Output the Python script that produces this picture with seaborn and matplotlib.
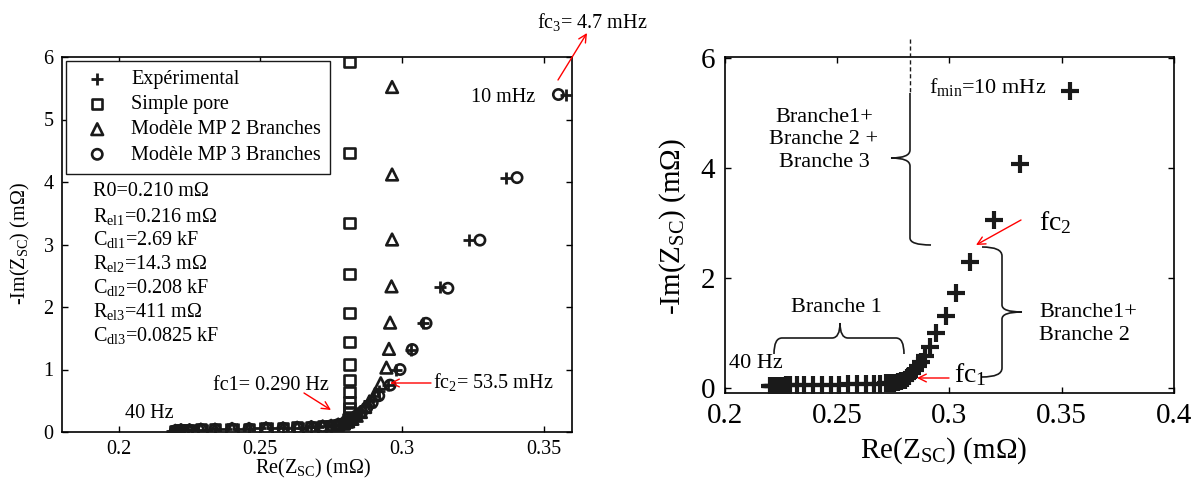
import matplotlib

matplotlib.use("Agg")

import matplotlib.pyplot as plt
import seaborn as sns
from matplotlib.path import Path
from matplotlib.patches import PathPatch
from matplotlib.lines import Line2D

W, H = 1194, 484

# ---- data (mOhm) ----
# left panel: measurement
exp_l_re = [0.219, 0.2195, 0.220, 0.2205, 0.221, 0.222, 0.223, 0.2245, 0.226, 0.228,
            0.231, 0.234, 0.238, 0.242, 0.246, 0.250, 0.254, 0.258, 0.262, 0.265,
            0.268, 0.2705, 0.273, 0.275, 0.2765, 0.278, 0.279, 0.280, 0.281, 0.2825,
            0.284, 0.2855, 0.287, 0.2885, 0.290, 0.292, 0.2951, 0.2979, 0.3032, 0.3074,
            0.3134, 0.3237, 0.3367, 0.358]
exp_l_im = [0.02, 0.02, 0.02, 0.03, 0.03, 0.03, 0.03, 0.04, 0.04, 0.04,
            0.04, 0.05, 0.05, 0.05, 0.05, 0.06, 0.06, 0.06, 0.07, 0.07,
            0.08, 0.08, 0.09, 0.10, 0.11, 0.12, 0.14, 0.16, 0.19, 0.23,
            0.28, 0.34, 0.41, 0.49, 0.57, 0.65, 0.76, 1.0, 1.32, 1.75,
            2.32, 3.07, 4.07, 5.4]

# simple pore model
sp_re = [0.220, 0.222, 0.225, 0.229, 0.234, 0.240, 0.246, 0.252, 0.258, 0.263,
         0.268, 0.272, 0.275, 0.2775, 0.2795, 0.2805, 0.281, 0.2813, 0.2815, 0.2815,
         0.2815, 0.2815, 0.2815, 0.2815, 0.2815, 0.2815, 0.2815, 0.2815, 0.2815, 0.2815]
sp_im = [0.02, 0.03, 0.03, 0.04, 0.04, 0.05, 0.05, 0.06, 0.06, 0.07,
         0.08, 0.09, 0.10, 0.11, 0.13, 0.16, 0.20, 0.24, 0.30, 0.38,
         0.48, 0.64, 0.83, 1.08, 1.44, 1.9, 2.53, 3.34, 4.46, 5.92]

# MP model, 2 branches
mp2_re = [0.220, 0.222, 0.225, 0.229, 0.234, 0.240, 0.246, 0.252, 0.258, 0.263,
          0.268, 0.272, 0.275, 0.2775, 0.2795, 0.281, 0.2825, 0.284, 0.2855, 0.287,
          0.2885, 0.2905, 0.2925, 0.2945, 0.2954, 0.2958, 0.2963, 0.2965, 0.2965, 0.2965]
mp2_im = [0.02, 0.03, 0.03, 0.04, 0.04, 0.05, 0.05, 0.06, 0.06, 0.07,
          0.08, 0.09, 0.10, 0.12, 0.14, 0.17, 0.21, 0.26, 0.32, 0.40,
          0.49, 0.61, 0.78, 1.03, 1.33, 1.75, 2.33, 3.08, 4.12, 5.52]

# MP model, 3 branches
mp3_re = [0.220, 0.222, 0.225, 0.229, 0.234, 0.240, 0.246, 0.252, 0.258, 0.263,
          0.268, 0.272, 0.275, 0.2775, 0.2795, 0.281, 0.2825, 0.284, 0.2858, 0.2876,
          0.2895, 0.2918, 0.2958, 0.2993, 0.3036, 0.3085, 0.3162, 0.3275, 0.3406, 0.3552]
mp3_im = [0.02, 0.03, 0.03, 0.04, 0.04, 0.05, 0.05, 0.06, 0.06, 0.07,
          0.08, 0.09, 0.10, 0.12, 0.14, 0.17, 0.21, 0.26, 0.32, 0.39,
          0.47, 0.58, 0.75, 1.0, 1.32, 1.74, 2.3, 3.07, 4.07, 5.4]

# right panel: measurement
exp_r_re = [0.220, 0.2205, 0.221, 0.2215, 0.222, 0.223, 0.224, 0.2255, 0.227, 0.229,
            0.232, 0.235, 0.239, 0.243, 0.247, 0.251, 0.255, 0.259, 0.263, 0.2665,
            0.269, 0.2715, 0.2735, 0.2755, 0.277, 0.2785, 0.280, 0.281, 0.282, 0.2833,
            0.2845, 0.2858, 0.2873, 0.289, 0.2912, 0.2942, 0.2984, 0.3027, 0.3090, 0.3196,
            0.3314, 0.3535]
exp_r_im = [0.02, 0.02, 0.02, 0.02, 0.03, 0.03, 0.03, 0.03, 0.04, 0.04,
            0.04, 0.04, 0.05, 0.05, 0.05, 0.05, 0.06, 0.06, 0.06, 0.07,
            0.07, 0.08, 0.08, 0.09, 0.10, 0.12, 0.14, 0.17, 0.21, 0.26,
            0.32, 0.39, 0.47, 0.57, 0.73, 1.0, 1.31, 1.72, 2.28, 3.05,
            4.07, 5.4]

params = ["R0=0.210 m\u03a9",
          "R$_{\\mathrm{el1}}$=0.216 m\u03a9",
          "C$_{\\mathrm{dl1}}$=2.69 kF",
          "R$_{\\mathrm{el2}}$=14.3 m\u03a9",
          "C$_{\\mathrm{dl2}}$=0.208 kF",
          "R$_{\\mathrm{el3}}$=411 m\u03a9",
          "C$_{\\mathrm{dl3}}$=0.0825 kF"]

left_xticks = [0.2, 0.25, 0.3, 0.35]
left_xlabels = ["0.2", "0.25", "0.3", "0.35"]
right_xticks = [0.2, 0.25, 0.3, 0.35, 0.4]
right_xlabels = ["0.2", "0.25", "0.3", "0.35", "0.4"]

sns.set_theme(style="ticks", rc={"axes.edgecolor": "black", "xtick.color": "black",
                                 "ytick.color": "black", "text.color": "black",
                                 "axes.linewidth": 1.2})
plt.rcParams["font.family"] = ["Liberation Serif", "DejaVu Serif"]
plt.rcParams["mathtext.fontset"] = "custom"
plt.rcParams["mathtext.rm"] = "Liberation Serif"
plt.rcParams["mathtext.it"] = "Liberation Serif:italic"
plt.rcParams["mathtext.bf"] = "Liberation Serif:bold"


def fp(x, y):
    # image pixel -> figure fraction
    return (x / W, 1 - y / H)


fig = plt.figure(figsize=(W / 100, H / 100), dpi=100)
ax1 = fig.add_axes([62 / W, 1 - 432 / H, 510 / W, 375 / H])
ax2 = fig.add_axes([725 / W, 1 - 393 / H, 449 / W, 336 / H])

FS_L = 14.5
FS_R = 21

# ---- left panel ----
sns.scatterplot(x=exp_l_re, y=exp_l_im, marker="+", color="k", s=75, linewidth=2.0,
                ax=ax1, label="Expérimental", zorder=4)
sns.scatterplot(x=sp_re, y=sp_im, marker="s", s=55, color="k", facecolor="none",
                edgecolor="k", linewidth=1.9, ax=ax1, label="Simple pore", zorder=3)
sns.scatterplot(x=mp2_re, y=mp2_im, marker="^", s=70, color="k", facecolor="none",
                edgecolor="k", linewidth=1.9, ax=ax1, label="Modèle MP 2 Branches", zorder=3)
sns.scatterplot(x=mp3_re, y=mp3_im, marker="o", s=55, color="k", facecolor="none",
                edgecolor="k", linewidth=1.9, ax=ax1, label="Modèle MP 3 Branches", zorder=3)

ax1.set_xlim(0.18, 0.36)
ax1.set_ylim(0, 6)
ax1.set_xticks(left_xticks)
ax1.set_xticklabels(left_xlabels)
ax1.set_yticks(range(7))
ax1.set_xlabel("")
ax1.set_ylabel("")
ax1.tick_params(direction="in", length=4, width=1, top=True, right=True,
                labelsize=FS_L, pad=6)

leg = ax1.legend(loc="upper left", fontsize=FS_L, frameon=True, fancybox=False,
                 edgecolor="k", framealpha=1, borderaxespad=0.2, borderpad=0.45,
                 handlelength=2.2, handletextpad=0.6, labelspacing=0.3)
leg.get_frame().set_linewidth(1.0)

for i, t in enumerate(params):
    fig.text(*fp(93, 192 + 24 * i), t, fontsize=FS_L, ha="left", va="center")

fig.text(*fp(25, 244), "-Im(Z$_{\\mathrm{SC}}$) (m\u03a9)", fontsize=FS_L,
         rotation=90, ha="center", va="baseline", rotation_mode="anchor")
fig.text(*fp(313, 473), "Re(Z$_{\\mathrm{SC}}$) (m\u03a9)", fontsize=FS_L,
         ha="center", va="baseline")

red = dict(arrowstyle="->", color="red", lw=1.0, mutation_scale=14,
           shrinkA=0, shrinkB=0)
fig.text(*fp(537, 22), "fc$_3$= 4.7 mHz", fontsize=FS_L, ha="left", va="center")
ax1.annotate("", xy=fp(587, 33), xytext=fp(558, 80), xycoords="figure fraction",
             textcoords="figure fraction", arrowprops=red)
fig.text(*fp(471, 97), "10 mHz", fontsize=FS_L, ha="left", va="center")
fig.text(*fp(213, 385), "fc1= 0.290 Hz", fontsize=FS_L, ha="left", va="center")
ax1.annotate("", xy=fp(331, 410), xytext=fp(304, 393), xycoords="figure fraction",
             textcoords="figure fraction", arrowprops=red)
fig.text(*fp(433, 382), "fc$_2$= 53.5 mHz", fontsize=FS_L, ha="left", va="center")
ax1.annotate("", xy=fp(390, 383), xytext=fp(431, 383), xycoords="figure fraction",
             textcoords="figure fraction", arrowprops=red)
fig.text(*fp(125, 413), "40 Hz", fontsize=FS_L, ha="left", va="center")

# ---- right panel ----
sns.scatterplot(x=exp_r_re, y=exp_r_im, marker="+", color="k", s=150, linewidth=3,
                ax=ax2, zorder=4)
ax2.set_xlim(0.2, 0.4)
ax2.set_ylim(-0.1, 6.02)
ax2.set_xticks(right_xticks)
ax2.set_xticklabels(right_xlabels)
ax2.set_yticks([0, 2, 4, 6])
ax2.set_xlabel("")
ax2.set_ylabel("")
ax2.tick_params(direction="in", length=4, width=1, top=True, right=True,
                labelsize=FS_R, pad=7)

fig.text(*fp(680, 227), "-Im(Z$_{\\mathrm{SC}}$) (m\u03a9)", fontsize=FS_R,
         rotation=90, ha="center", va="baseline", rotation_mode="anchor")
fig.text(*fp(944, 458), "Re(Z$_{\\mathrm{SC}}$) (m\u03a9)", fontsize=FS_R,
         ha="center", va="baseline")

FS_B = 16
fig.text(*fp(929, 87), "f$_{\\mathrm{min}}$=10 mHz", fontsize=FS_B, ha="left", va="center")
fig.text(*fp(824, 140), "Branche1+\nBranche 2 +\nBranche 3", fontsize=FS_B,
         ha="center", va="center", linespacing=1.25)
fig.text(*fp(1039, 324), "Branche1+\nBranche 2", fontsize=FS_B,
         ha="left", va="center", linespacing=1.25)
fig.text(*fp(836, 308), "Branche 1", fontsize=FS_B, ha="center", va="center")
fig.text(*fp(729, 363), "40 Hz", fontsize=FS_B, ha="left", va="center")
fig.text(*fp(1039, 223), "fc$_2$", fontsize=20, ha="left", va="center")
fig.text(*fp(954, 375), "fc$_1$", fontsize=20, ha="left", va="center")
ax2.annotate("", xy=fp(976, 245), xytext=fp(1021, 220), xycoords="figure fraction",
             textcoords="figure fraction", arrowprops=red)
ax2.annotate("", xy=fp(917, 378), xytext=fp(949, 378), xycoords="figure fraction",
             textcoords="figure fraction", arrowprops=red)

# braces
M, L, C = Path.MOVETO, Path.LINETO, Path.CURVE3
braces = [
    ([(910, 93), (910, 150), (910, 158), (891, 158), (910, 158), (910, 166),
      (910, 238), (910, 245), (931, 245)],
     [M, L, C, C, C, C, L, C, C]),
    ([(982, 247), (1002, 247), (1002, 256), (1002, 305), (1002, 312), (1022, 312),
      (1002, 312), (1002, 319), (1002, 368), (1002, 377), (982, 377)],
     [M, C, C, L, C, C, C, C, L, C, C]),
    ([(774, 354), (774, 338), (782, 338), (832, 338), (840, 338), (840, 323),
      (840, 338), (848, 338), (896, 338), (904, 338), (904, 354)],
     [M, C, C, L, C, C, C, C, L, C, C]),
]
for verts, codes in braces:
    pth = Path([fp(x, y) for x, y in verts], codes)
    fig.add_artist(PathPatch(pth, fill=False, lw=1.2, ec="k", transform=fig.transFigure))

fig.add_artist(Line2D([910 / W, 910 / W], [1 - 39 / H, 1 - 93 / H], color="k",
                      lw=1.0, linestyle=(0, (3, 2)), transform=fig.transFigure))

fig.savefig("out.png", dpi=100)
plt.close(fig)
